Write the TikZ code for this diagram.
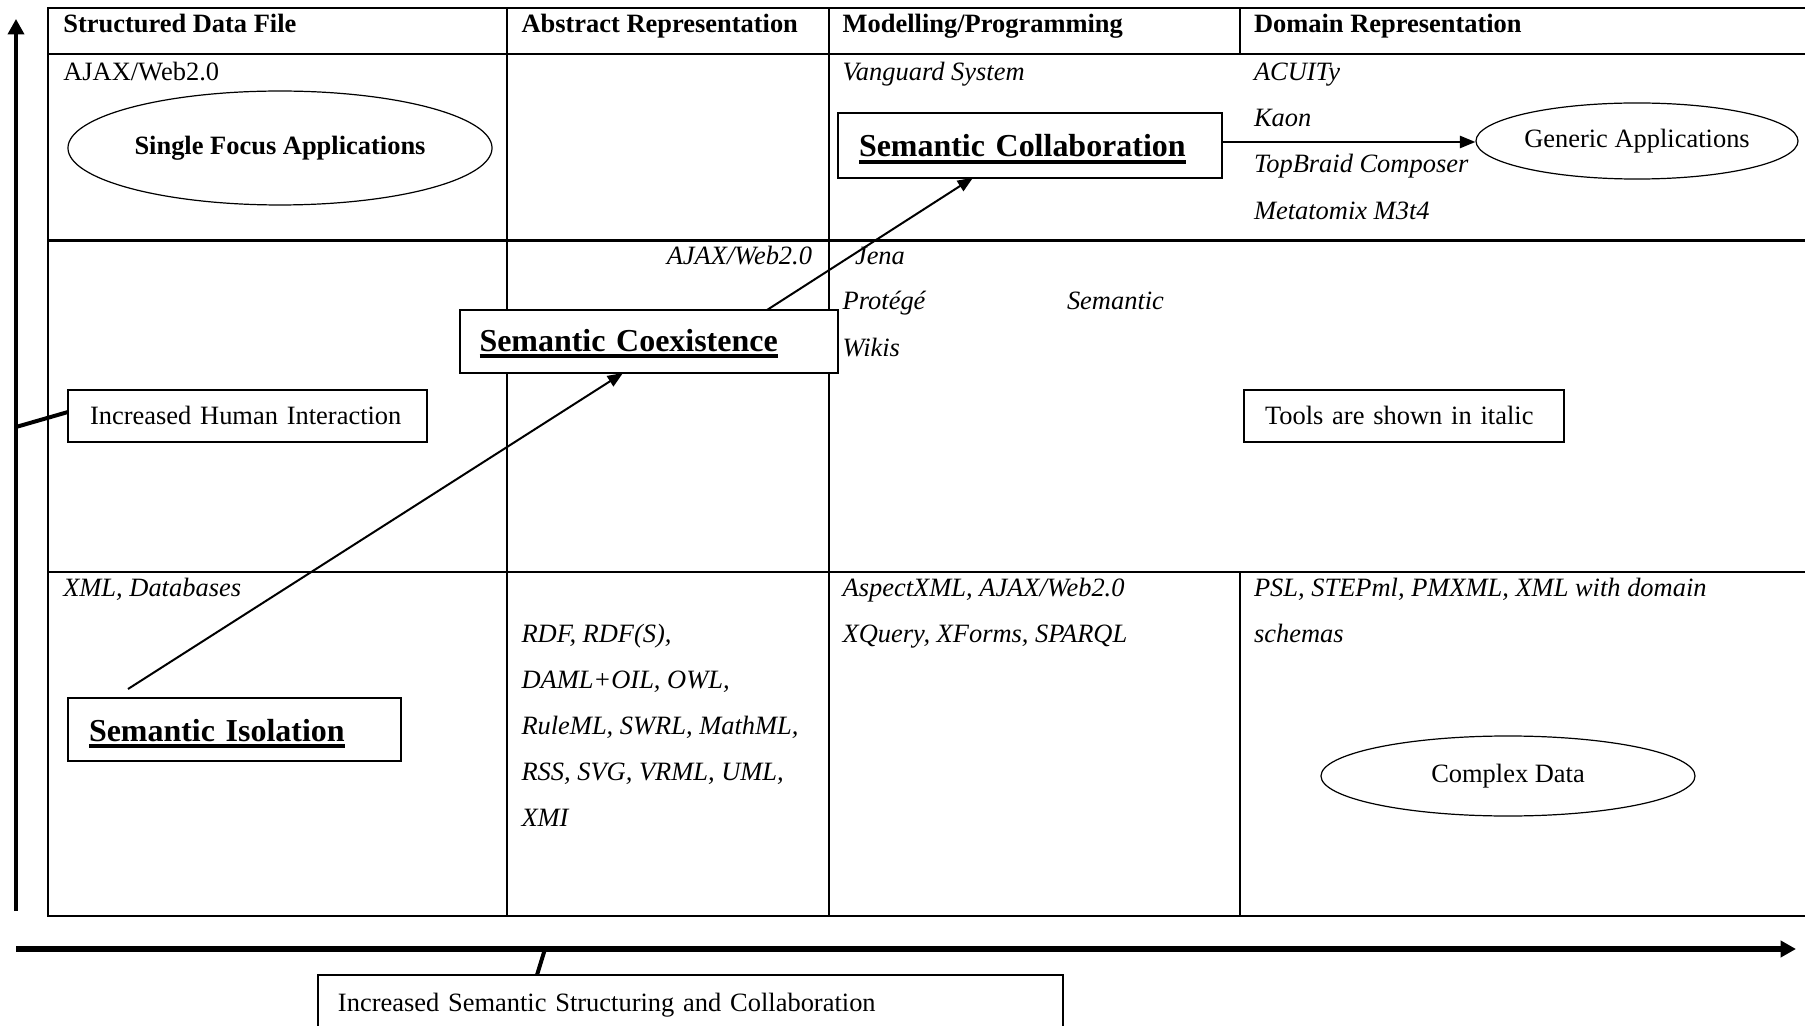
\documentclass[tikz,border=0pt]{standalone}
\usepackage{fontspec}
\setmainfont{Liberation Serif}
\usetikzlibrary{arrows.meta,shapes.geometric}
\setlength\parindent{0pt}
% bold title with a heavy underline
\newcommand\thickul[1]{\noindent\sbox0{#1}\rlap{\rule[-3pt]{\wd0}{1.8pt}}\usebox0}

\begin{document}
\begin{tikzpicture}[x=0.4537pt,y=-0.4537pt,
  every node/.style={font=\fontsize{12}{14}\selectfont},
  txt/.style={anchor=base west,inner sep=0pt,outer sep=0pt},
  itxt/.style={txt,font=\fontsize{12}{14}\selectfont\itshape},
  tblhead/.style={txt,font=\fontsize{12}{14}\selectfont\bfseries},
  hline/.style={line width=1pt,line cap=rect},
  vline/.style={line width=0.75pt,line cap=rect},
  tbox/.style={draw,line width=0.9pt,fill=white,anchor=base west,
    inner ysep=0pt,outer sep=0pt,align=left},
  sbox/.style={tbox,font=\fontsize{14.5}{17}\selectfont\bfseries},
  ovalnode/.style={draw,ellipse,line width=0.55pt,fill=white,inner sep=0pt},
  arrowline/.style={line width=0.9pt,-{Triangle[length=7pt,width=5.5pt]}},
  axisline/.style={-{Triangle[length=7pt,width=7.3pt]}},
  linkline/.style={line width=1.8pt}
]
\useasboundingbox (0,0) rectangle (1805,1026);
\clip (0,0) rectangle (1805,1026);

% table grid
\foreach \y in {8,54,240.5,572,916} \draw[hline] (48,\y) -- (1805,\y);
\draw[vline] (48,8) -- (48,916);
\draw[vline] (507,8) -- (507,916);
\draw[vline] (829,8) -- (829,916);
\draw[vline] (1240,8) -- (1240,54);
\draw[vline] (1240,572) -- (1240,916);

% axes
\coordinate (yaxisfoot) at (16,911);
\coordinate (yaxistip) at (16,19);
\draw[axisline,line width=1.6pt] (yaxisfoot) -- (yaxistip);
\coordinate (xaxisfoot) at (16,949);
\coordinate (xaxistip) at (1796,949);
\draw[axisline,line width=2.3pt] (xaxisfoot) -- (xaxistip);

% boxes
\node[tbox,text width=142.9pt,inner xsep=10pt,text height=15.65pt,text depth=7.94pt]
  (human) at (68,424.5) {Increased Human Interaction};
\node[tbox,text width=126.1pt,inner xsep=9.53pt,text height=15.65pt,text depth=7.94pt]
  (tools) at (1244,424.5) {Tools are shown in italic};
\node[tbox,text width=319.7pt,inner xsep=9.07pt,text height=16.56pt,text depth=20pt]
  (trend) at (318,1011.5) {Increased Semantic Structuring and Collaboration};
\node[sbox,text width=131.9pt,inner xsep=9.53pt,text height=19.3pt,text depth=9.06pt]
  (iso) at (68,741) {\thickul{Semantic Isolation}};
\node[sbox,text width=153.8pt,inner xsep=8.85pt,text height=18.92pt,text depth=9.66pt]
  (coex) at (460,351.7) {\thickul{Semantic Coexistence}};
\node[sbox,text width=155.0pt,inner xsep=9.66pt,text height=19.96pt,text depth=9.39pt]
  (collab) at (837.7,157) {\thickul{Semantic Collaboration}};

% ellipses
\node[ovalnode,minimum width=192.4pt,minimum height=51.7pt,
  font=\fontsize{12}{14}\selectfont\bfseries] (single) at (280,148) {Single Focus Applications};
\node[ovalnode,minimum width=146.1pt,minimum height=34.5pt] (generic) at (1637,141) {Generic Applications};
\node[ovalnode,minimum width=169.7pt,minimum height=36.3pt] (complex) at (1508,776) {Complex Data};

% arrows
\draw[arrowline] (collab.east |- 0,142) -- (generic.west |- 0,142);
\coordinate (isotop) at (128,689);
\draw[arrowline] (isotop) -- (623,0 |- coex.south);
\draw[arrowline] (767,0 |- coex.north) -- (973,0 |- collab.south);

% axis label links
\coordinate (hlink) at (16,427);
\draw[linkline] (hlink) -- (human.west |- 0,412);
\coordinate (xlink) at (545,949);
\draw[linkline] (xlink) -- (537,0 |- trend.north);

% column headers
\node[tblhead] (h1) at (63.3,33) {Structured Data File};
\node[tblhead] (h2) at (521.5,33) {Abstract Representation};
\node[tblhead] (h3) at (842.7,33) {Modelling/Programming};
\node[tblhead] (h4) at (1254,33) {Domain Representation};

% first row
\node[txt] (r1a) at (63.3,81) {AJAX/Web2.0};
\node[itxt] (r1c) at (842.7,81) {Vanguard System};
\node[itxt] (r1d1) at (1254,81) {ACUITy};
\node[itxt] (r1d2) at (1254,127) {Kaon};
\node[itxt] (r1d3) at (1254,173) {TopBraid Composer};
\node[itxt] (r1d4) at (1254,220) {Metatomix M3t4};

% second row
\node[itxt,anchor=base east] (r2b) at (812,265) {AJAX/Web2.0};
\node[itxt] (r2c1) at (855,265) {Jena};
\node[itxt] (r2c2) at (842.7,310) {Protégé};
\node[itxt] (r2c3) at (1067,310) {Semantic};
\node[itxt] (r2c4) at (842.7,356) {Wikis};

% third row
\node[itxt] (r3a) at (63.3,596) {XML, Databases};
\node[itxt] (r3b1) at (521.5,642) {RDF, RDF(S),};
\node[itxt] (r3b2) at (521.5,688) {DAML+OIL, OWL,};
\node[itxt] (r3b3) at (521.5,734) {RuleML, SWRL, MathML,};
\node[itxt] (r3b4) at (521.5,780) {RSS, SVG, VRML, UML,};
\node[itxt] (r3b5) at (521.5,826) {XMI};
\node[itxt] (r3c1) at (842.7,596) {AspectXML, AJAX/Web2.0};
\node[itxt] (r3c2) at (842.7,642) {XQuery, XForms, SPARQL};
\node[itxt] (r3d1) at (1254,596) {PSL, STEPml, PMXML, XML with domain};
\node[itxt] (r3d2) at (1254,642) {schemas};
\end{tikzpicture}
\end{document}
